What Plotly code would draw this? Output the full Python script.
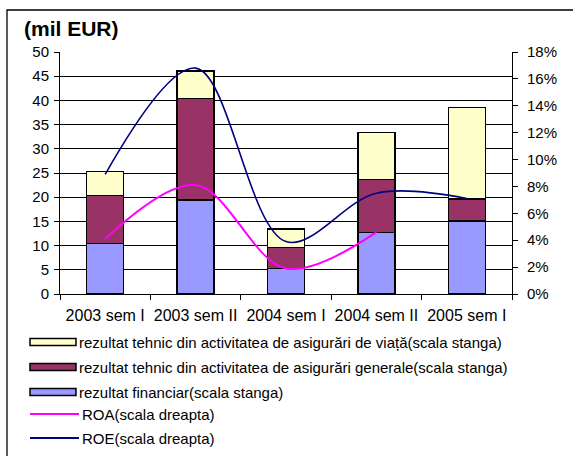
import plotly.graph_objects as go

categories = ["2003 sem I", "2003 sem II", "2004 sem I", "2004 sem II", "2005 sem I"]
rez_financiar = [10.5, 19.4, 5.2, 12.7, 15.1]
rez_generale = [9.8, 21.0, 4.4, 11.0, 4.5]
rez_viata = [5.0, 5.7, 3.8, 9.7, 18.9]
roa = [0.041, 0.081, 0.019, 0.046]
roe = [0.089, 0.168, 0.039, 0.075, 0.071]

names = {
    "viata": "rezultat tehnic din activitatea de asigurări de viață(scala stanga)",
    "generale": "rezultat tehnic din activitatea de asigurări generale(scala stanga)",
    "financiar": "rezultat financiar(scala stanga)",
    "roa": "ROA(scala dreapta)",
    "roe": "ROE(scala dreapta)",
}
colors = {
    "viata": "#FFFFCC",
    "generale": "#993366",
    "financiar": "#9999FF",
    "roa": "#FF00FF",
    "roe": "#000080",
}

FONT = "Liberation Sans, Arial, sans-serif"
W, H = 573, 456
L, R, T, B = 60, 512, 52, 294


def px(x):
    return (x - L) / (R - L)


def py(y):
    return (B - y) / (B - T)


fig = go.Figure()
for key, vals in [("financiar", rez_financiar), ("generale", rez_generale), ("viata", rez_viata)]:
    fig.add_trace(go.Bar(
        x=categories, y=vals, name=names[key],
        marker=dict(color=colors[key], line=dict(color="#000000", width=1.3)),
        showlegend=False,
    ))

fig.add_trace(go.Scatter(
    x=categories[:len(roa)], y=roa, name=names["roa"], yaxis="y2", mode="lines",
    line=dict(color=colors["roa"], width=2, shape="spline", smoothing=1.0),
    showlegend=False,
))
fig.add_trace(go.Scatter(
    x=categories, y=roe, name=names["roe"], yaxis="y2", mode="lines",
    line=dict(color=colors["roe"], width=1.6, shape="spline", smoothing=1.0),
    showlegend=False,
))

shapes = []
annotations = []

# outer frame
shapes.append(dict(type="rect", xref="paper", yref="paper",
                   x0=px(7), x1=px(600), y0=py(10), y1=py(480),
                   line=dict(color="#000000", width=1.3), fillcolor="rgba(0,0,0,0)", layer="below"))

# title
annotations.append(dict(text="<b>(mil EUR)</b>", xref="paper", yref="paper",
                        x=px(22), y=py(29), xanchor="left", yanchor="middle", showarrow=False,
                        font=dict(family=FONT, size=21, color="#000000")))

# custom legend
legend_rows = [("viata", 342, "bar"), ("generale", 367, "bar"), ("financiar", 392, "bar"),
               ("roa", 414, "line"), ("roe", 438, "line")]
for key, yrow, kind in legend_rows:
    if kind == "bar":
        shapes.append(dict(type="rect", xref="paper", yref="paper",
                           x0=px(30), x1=px(76), y0=py(yrow - 3.5), y1=py(yrow + 3.5),
                           fillcolor=colors[key], line=dict(color="#000000", width=1.5)))
        tx = 77
    else:
        shapes.append(dict(type="line", xref="paper", yref="paper",
                           x0=px(30), x1=px(79), y0=py(yrow), y1=py(yrow),
                           line=dict(color=colors[key], width=2)))
        tx = 80
    annotations.append(dict(text=names[key], xref="paper", yref="paper",
                            x=px(tx), y=py(yrow), xanchor="left", yanchor="middle", showarrow=False,
                            font=dict(family=FONT, size=15, color="#000000")))

fig.update_layout(
    width=W, height=H,
    margin=dict(l=L, r=W - R, t=T, b=H - B, pad=0),
    paper_bgcolor="#FFFFFF", plot_bgcolor="#FFFFFF",
    barmode="stack", bargap=0.59,
    font=dict(family=FONT, size=14, color="#000000"),
    xaxis=dict(type="category", showline=True, linecolor="#000000", linewidth=1,
               ticks="outside", tickson="boundaries", ticklen=5, tickcolor="#000000",
               tickfont=dict(size=16), tickangle=0, showgrid=False, ticklabelstandoff=7),
    yaxis=dict(range=[0, 50], dtick=5, showgrid=True, gridcolor="#000000", gridwidth=1,
               showline=True, linecolor="#000000", linewidth=1, zeroline=False,
               ticks="outside", ticklen=5, tickcolor="#000000", tickfont=dict(size=15),
               ticklabelstandoff=2),
    yaxis2=dict(range=[0, 0.18], dtick=0.02, tickformat=".0%", overlaying="y", side="right",
                showgrid=False, zeroline=False, showline=True, linecolor="#000000", linewidth=1,
                ticks="outside", ticklen=5, tickcolor="#000000", tickfont=dict(size=15),
                ticklabelstandoff=6),
    shapes=shapes, annotations=annotations,
)

fig.write_html("out.html", config={"displayModeBar": False},
               post_script="document.body.style.margin='0';")
